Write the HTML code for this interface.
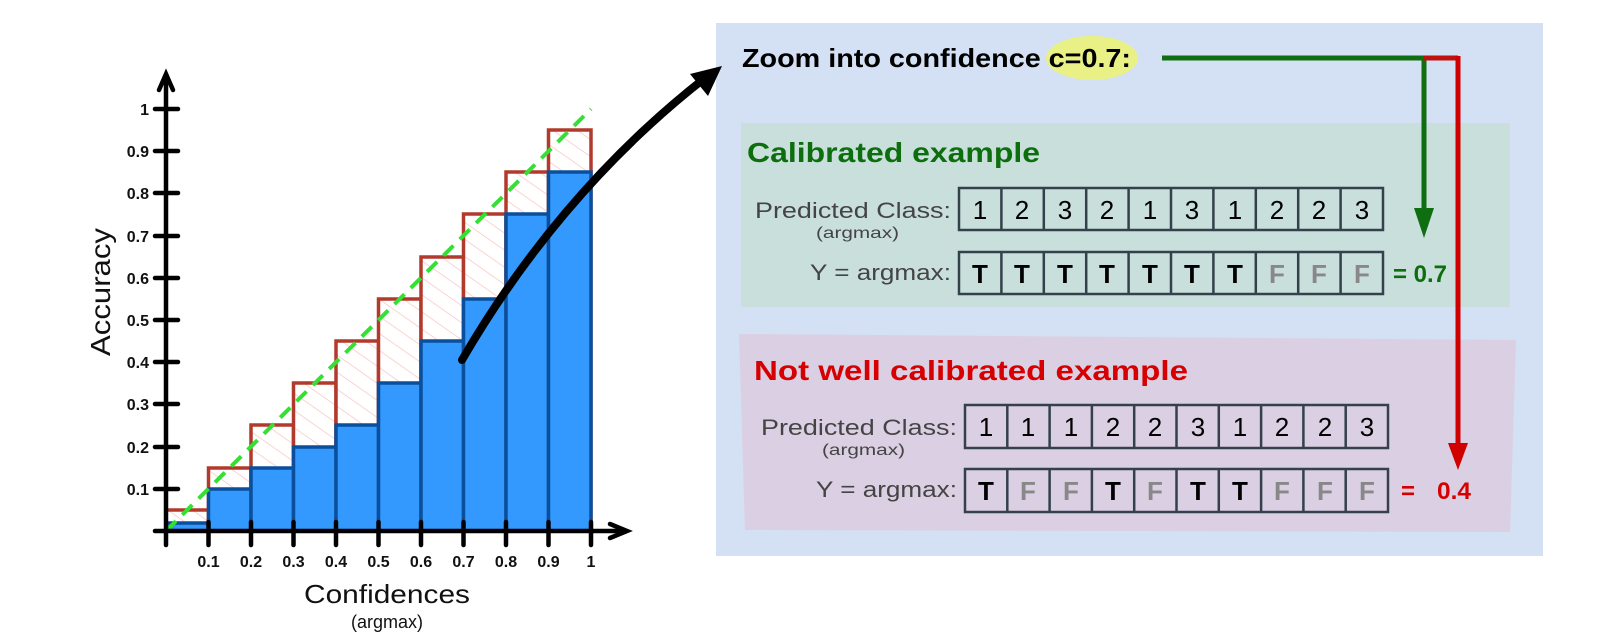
<!DOCTYPE html>
<html><head><meta charset="utf-8"><style>
html,body{margin:0;padding:0;background:#fff;width:1600px;height:641px;overflow:hidden}
svg{display:block}
text{font-family:"Liberation Sans",sans-serif}
</style></head><body>
<svg width="1600" height="641" viewBox="0 0 1600 641" xmlns="http://www.w3.org/2000/svg">
<defs>
<pattern id="h" width="14" height="14" patternUnits="userSpaceOnUse" patternTransform="rotate(-55)">
<rect width="14" height="14" fill="#fff"/><line x1="0" y1="0" x2="0" y2="14" stroke="#f5c8c4" stroke-width="1.5"/></pattern>
</defs>
<!-- right panel -->
<rect x="716" y="23" width="827" height="533" fill="#d4e0f3"/>
<rect x="741" y="123" width="769" height="184" fill="#c9dfdc"/>
<polygon points="739,334 1516,340 1510,532 745,530" fill="#dbcfe3"/>
<ellipse cx="1092" cy="58" rx="46" ry="22" fill="#eef56a" opacity="0.8"/>
<text x="742" y="67" font-size="26" font-weight="bold" fill="#000" textLength="389" lengthAdjust="spacingAndGlyphs">Zoom into confidence c=0.7:</text>
<!-- connectors -->
<polyline points="1162,58 1424,58 1424,210" fill="none" stroke="#0f6e10" stroke-width="5"/>
<polygon points="1414,208 1434,208 1424,238" fill="#0f6e10"/>
<line x1="1424" y1="58" x2="1458" y2="58" stroke="#c01010" stroke-width="5"/>
<line x1="1458" y1="56" x2="1458" y2="445" stroke="#d00000" stroke-width="5"/>
<polygon points="1448,443 1468,443 1458,470" fill="#d00000"/>
<text x="747" y="162" font-size="28" font-weight="bold" fill="#0d6e0d" textLength="293" lengthAdjust="spacingAndGlyphs">Calibrated example</text>
<text x="754" y="380" font-size="28" font-weight="bold" fill="#d60000" textLength="434" lengthAdjust="spacingAndGlyphs">Not well calibrated example</text>
<g font-size="22" fill="#444">
<text x="755" y="218" textLength="196" lengthAdjust="spacingAndGlyphs">Predicted Class:</text>
<text x="810" y="280" textLength="141" lengthAdjust="spacingAndGlyphs">Y = argmax:</text>
<text x="761" y="435" textLength="196" lengthAdjust="spacingAndGlyphs">Predicted Class:</text>
<text x="816" y="497" textLength="141" lengthAdjust="spacingAndGlyphs">Y = argmax:</text>
</g>
<g font-size="16" fill="#444">
<text x="816" y="238" textLength="83" lengthAdjust="spacingAndGlyphs">(argmax)</text>
<text x="822" y="455" textLength="83" lengthAdjust="spacingAndGlyphs">(argmax)</text>
</g>
<g fill="none" stroke="#34404c" stroke-width="2.5">
<rect x="959" y="188" width="424" height="42"/>
<rect x="959" y="252" width="424" height="42"/>
<rect x="965" y="405" width="423" height="43"/>
<rect x="965" y="469" width="423" height="43"/>
<path d="M1001.4 188V230M1043.8 188V230M1086.2 188V230M1128.6 188V230M1171 188V230M1213.4 188V230M1255.8 188V230M1298.2 188V230M1340.6 188V230"/>
<path d="M1001.4 252V294M1043.8 252V294M1086.2 252V294M1128.6 252V294M1171 252V294M1213.4 252V294M1255.8 252V294M1298.2 252V294M1340.6 252V294"/>
<path d="M1007.3 405V448M1049.6 405V448M1091.9 405V448M1134.2 405V448M1176.5 405V448M1218.8 405V448M1261.1 405V448M1303.4 405V448M1345.7 405V448"/>
<path d="M1007.3 469V512M1049.6 469V512M1091.9 469V512M1134.2 469V512M1176.5 469V512M1218.8 469V512M1261.1 469V512M1303.4 469V512M1345.7 469V512"/>
</g>
<g font-size="26" text-anchor="middle" fill="#000">
<text x="980" y="219">1</text><text x="1022" y="219">2</text><text x="1065" y="219">3</text><text x="1107" y="219">2</text><text x="1150" y="219">1</text><text x="1192" y="219">3</text><text x="1235" y="219">1</text><text x="1277" y="219">2</text><text x="1319" y="219">2</text><text x="1362" y="219">3</text>
<text x="986" y="436">1</text><text x="1028" y="436">1</text><text x="1071" y="436">1</text><text x="1113" y="436">2</text><text x="1155" y="436">2</text><text x="1198" y="436">3</text><text x="1240" y="436">1</text><text x="1282" y="436">2</text><text x="1325" y="436">2</text><text x="1367" y="436">3</text>
</g>
<g font-size="26" font-weight="bold" text-anchor="middle">
<text x="980" y="283">T</text><text x="1022" y="283">T</text><text x="1065" y="283">T</text><text x="1107" y="283">T</text><text x="1150" y="283">T</text><text x="1192" y="283">T</text><text x="1235" y="283">T</text>
<text x="1277" y="283" fill="#888">F</text><text x="1319" y="283" fill="#888">F</text><text x="1362" y="283" fill="#888">F</text>
<text x="986" y="500">T</text><text x="1028" y="500" fill="#888">F</text><text x="1071" y="500" fill="#888">F</text><text x="1113" y="500">T</text><text x="1155" y="500" fill="#888">F</text><text x="1198" y="500">T</text><text x="1240" y="500">T</text><text x="1282" y="500" fill="#888">F</text><text x="1325" y="500" fill="#888">F</text><text x="1367" y="500" fill="#888">F</text>
</g>
<text x="1393" y="282" font-size="24" font-weight="bold" fill="#0d6e0d" textLength="54" lengthAdjust="spacingAndGlyphs">= 0.7</text>
<text x="1401" y="499" font-size="24" font-weight="bold" fill="#d60000">=</text>
<text x="1437" y="499" font-size="24" font-weight="bold" fill="#d60000" textLength="34" lengthAdjust="spacingAndGlyphs">0.4</text>

<!-- chart -->
<g stroke="#b23a2c" stroke-width="3.5" fill="url(#h)">
<rect x="166" y="510" width="42.5" height="21"/>
<rect x="208.5" y="468" width="42.5" height="63"/>
<rect x="251" y="425" width="42.5" height="106"/>
<rect x="293.5" y="383" width="42.5" height="148"/>
<rect x="336" y="341" width="42.5" height="190"/>
<rect x="378.5" y="299" width="42.5" height="232"/>
<rect x="421" y="257" width="42.5" height="274"/>
<rect x="463.5" y="214" width="42.5" height="317"/>
<rect x="506" y="172" width="42.5" height="359"/>
<rect x="548.5" y="130" width="42.5" height="401"/>
</g>
<g stroke="#0b4f9c" stroke-width="3.5" fill="#3399ff">
<rect x="166" y="523" width="42.5" height="8"/>
<rect x="208.5" y="489" width="42.5" height="42"/>
<rect x="251" y="468" width="42.5" height="63"/>
<rect x="293.5" y="447" width="42.5" height="84"/>
<rect x="336" y="425" width="42.5" height="106"/>
<rect x="378.5" y="383" width="42.5" height="148"/>
<rect x="421" y="341" width="42.5" height="190"/>
<rect x="463.5" y="299" width="42.5" height="232"/>
<rect x="506" y="214" width="42.5" height="317"/>
<rect x="548.5" y="172" width="42.5" height="359"/>
</g>
<line x1="166" y1="531" x2="591" y2="109" stroke="#33e033" stroke-width="4" stroke-dasharray="14,9"/>
<g stroke="#000" stroke-width="4.5" fill="none" stroke-linecap="round">
<line x1="166" y1="545" x2="166" y2="76"/>
<polyline points="159,90 166,74 173,90"/>
<line x1="155" y1="531" x2="625" y2="531"/>
<polyline points="610,524 627,531 610,538"/>
<path d="M155 109H178M155 151H178M155 193H178M155 236H178M155 278H178M155 320H178M155 362H178M155 404H178M155 447H178M155 489H178"/>
<path d="M208.5 522V545M251 522V545M293.5 522V545M336 522V545M378.5 522V545M421 522V545M463.5 522V545M506 522V545M548.5 522V545M591 522V545"/>
</g>
<g font-size="16" font-weight="bold" fill="#111" text-anchor="end">
<text x="149" y="115">1</text><text x="149" y="157">0.9</text><text x="149" y="199">0.8</text><text x="149" y="242">0.7</text><text x="149" y="284">0.6</text><text x="149" y="326">0.5</text><text x="149" y="368">0.4</text><text x="149" y="410">0.3</text><text x="149" y="453">0.2</text><text x="149" y="495">0.1</text>
</g>
<g font-size="16" font-weight="bold" fill="#111" text-anchor="middle">
<text x="208.5" y="567">0.1</text><text x="251" y="567">0.2</text><text x="293.5" y="567">0.3</text><text x="336" y="567">0.4</text><text x="378.5" y="567">0.5</text><text x="421" y="567">0.6</text><text x="463.5" y="567">0.7</text><text x="506" y="567">0.8</text><text x="548.5" y="567">0.9</text><text x="591" y="567">1</text>
</g>
<text x="387" y="603" font-size="26" text-anchor="middle" fill="#111" textLength="166" lengthAdjust="spacingAndGlyphs">Confidences</text>
<text x="387" y="628" font-size="18" text-anchor="middle" fill="#111">(argmax)</text>
<text transform="translate(110,292) rotate(-90)" font-size="28" text-anchor="middle" fill="#111" textLength="128" lengthAdjust="spacingAndGlyphs">Accuracy</text>
<path d="M462 360 C520 260 600 160 705 78" fill="none" stroke="#000" stroke-width="8" stroke-linecap="round"/>
<polygon points="722,66 690,74 708,96" fill="#000"/>
</svg>
</body></html>
